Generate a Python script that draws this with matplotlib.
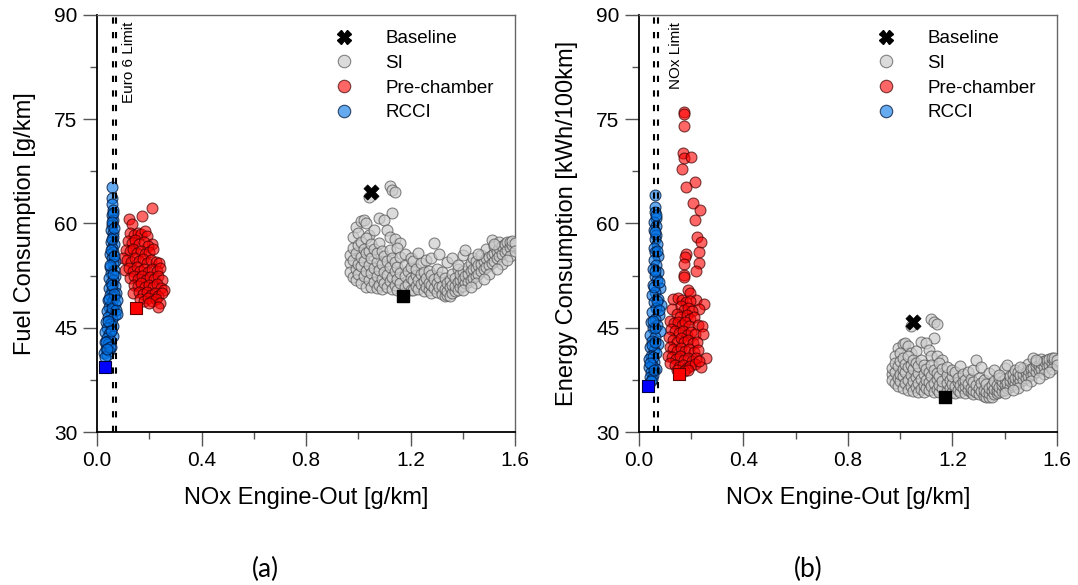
import matplotlib
matplotlib.use("Agg")
import matplotlib.pyplot as plt
from matplotlib.lines import Line2D
from matplotlib.ticker import MultipleLocator, FormatStrFormatter

plt.rcParams['font.family'] = ['Liberation Sans', 'DejaVu Sans']

# ---------------- data ----------------
si_nox = [1.04, 1.12, 1.13, 1.14, 1.13, 0.99, 1.01, 1.02, 1.03, 1.08, 1.10, 1.11, 0.98, 1.00, 1.04, 1.06, 1.12, 1.14, 1.16,
          0.97, 0.97, 0.97, 0.98, 0.98, 0.98, 0.99, 0.99, 0.99, 1.00, 1.00, 1.00, 1.01, 1.01, 1.01, 1.01,
          1.02, 1.02, 1.02, 1.03, 1.03, 1.03, 1.03, 1.04, 1.04, 1.04, 1.05, 1.05, 1.05, 1.05,
          1.06, 1.06, 1.06, 1.07, 1.07, 1.07, 1.07, 1.08, 1.08, 1.08, 1.09, 1.09, 1.09, 1.09,
          1.10, 1.10, 1.10, 1.11, 1.11, 1.11, 1.12, 1.12, 1.12, 1.13, 1.13, 1.13, 1.14, 1.14, 1.14,
          1.15, 1.15, 1.15, 1.15, 1.16, 1.16, 1.16, 1.18, 1.18, 1.18, 1.18, 1.19, 1.19,
          1.20, 1.20, 1.20, 1.20, 1.21, 1.21, 1.21, 1.22, 1.22, 1.22, 1.23, 1.23, 1.23,
          1.24, 1.24, 1.24, 1.25, 1.25, 1.25, 1.26, 1.26, 1.26, 1.27, 1.27, 1.27,
          1.28, 1.28, 1.28, 1.28, 1.29, 1.29, 1.29, 1.30, 1.30, 1.30, 1.31, 1.31, 1.31, 1.32, 1.32, 1.32,
          1.33, 1.33, 1.33, 1.34, 1.34, 1.34, 1.34, 1.35, 1.35, 1.35, 1.36, 1.36, 1.36, 1.36,
          1.37, 1.37, 1.37, 1.38, 1.38, 1.38, 1.39, 1.39, 1.39, 1.40, 1.40, 1.40, 1.40,
          1.41, 1.41, 1.41, 1.42, 1.42, 1.42, 1.43, 1.43, 1.43, 1.44, 1.44, 1.44, 1.45, 1.45, 1.45,
          1.46, 1.46, 1.47, 1.47, 1.47, 1.48, 1.48, 1.49, 1.49, 1.49, 1.50, 1.50,
          1.51, 1.51, 1.51, 1.52, 1.52, 1.52, 1.53, 1.53, 1.54, 1.54, 1.54, 1.55, 1.55,
          1.56, 1.56, 1.57, 1.57, 1.58, 1.58, 1.59, 1.59, 1.60,
          1.40, 1.45, 1.50, 1.55, 1.58, 1.43, 1.48, 1.53, 1.57, 1.60, 1.38, 1.46, 1.52]
si_fuel = [63.8, 65.4, 64.8, 64.5, 61.5, 59.5, 60.3, 60.5, 60.0, 60.8, 60.5, 59.1, 58.0, 58.6, 58.4, 59.0, 58.0, 57.8, 57.2,
           54.3, 53.0, 55.5, 52.3, 54.8, 56.5, 53.5, 55.8, 51.8, 52.8, 54.2, 56.9, 51.5, 53.9, 55.2, 57.4,
           52.5, 54.6, 56.3, 50.9, 53.1, 55.7, 57.9, 51.8, 54.0, 56.0, 50.8, 52.9, 55.1, 57.0,
           51.6, 53.6, 56.4, 50.7, 52.4, 54.5, 55.8, 51.2, 53.3, 57.2, 50.6, 52.0, 54.2, 56.1,
           51.4, 53.0, 55.3, 50.9, 52.6, 54.6, 51.7, 53.8, 56.2, 50.6, 52.3, 55.0, 51.2, 53.2, 54.4,
           50.5, 52.0, 53.7, 56.5, 51.5, 52.9, 55.2, 50.8, 52.4, 54.0, 55.6, 51.3, 53.1,
           50.5, 52.2, 53.7, 55.0, 50.4, 51.8, 54.6, 51.0, 52.6, 53.4, 50.6, 51.9, 55.8,
           51.3, 52.8, 54.3, 50.3, 51.7, 53.0, 50.9, 52.2, 54.8, 50.5, 51.5, 53.2,
           50.0, 51.1, 52.6, 55.0, 50.7, 57.2, 52.0, 50.2, 51.4, 53.5, 50.8, 52.3, 55.6, 49.8, 51.0, 53.0,
           49.5, 50.6, 52.2, 49.7, 50.3, 51.4, 54.4, 49.6, 50.8, 51.9, 50.0, 51.2, 52.8, 55.0,
           50.3, 51.0, 52.1, 50.5, 51.6, 53.4, 50.8, 51.9, 52.7, 51.0, 52.0, 53.2, 55.4,
           51.4, 52.5, 56.2, 51.6, 52.8, 53.8, 51.9, 53.1, 54.3, 52.2, 53.4, 55.0, 52.5, 53.6, 54.6,
           52.8, 54.0, 53.1, 54.2, 55.4, 53.4, 54.6, 53.7, 55.0, 56.3, 54.0, 55.2,
           54.3, 55.5, 57.6, 54.6, 55.8, 56.7, 55.0, 56.1, 55.3, 56.5, 57.3, 55.6, 56.8,
           55.9, 57.0, 56.2, 57.3, 56.6, 57.4, 56.9, 57.5, 57.2,
           50.4, 51.5, 52.8, 54.2, 55.3, 50.9, 52.0, 53.4, 54.8, 56.0, 54.0, 55.6, 57.0]
si_energy = [45.2, 46.3, 45.8, 45.6, 43.5, 42.1, 42.6, 42.8, 42.4, 43.0, 42.8, 41.8, 41.0, 41.4, 41.3, 41.7, 41.0, 40.9, 40.4,
             38.4, 37.5, 39.2, 37.0, 38.7, 39.9, 37.8, 39.5, 36.6, 37.3, 38.3, 40.2, 36.4, 38.1, 39.0, 40.6,
             37.1, 38.6, 39.8, 36.0, 37.5, 39.4, 40.9, 36.6, 38.2, 39.6, 35.9, 37.4, 39.0, 40.3,
             36.5, 37.9, 39.9, 35.8, 37.0, 38.5, 39.5, 36.2, 37.7, 40.4, 35.8, 36.8, 38.3, 39.7,
             36.3, 37.5, 39.1, 36.0, 37.2, 38.6, 36.6, 38.0, 39.7, 35.8, 37.0, 38.9, 36.2, 37.6, 38.5,
             35.7, 36.8, 38.0, 39.9, 36.4, 37.4, 39.0, 35.9, 37.0, 38.2, 39.3, 36.3, 37.5,
             35.7, 36.9, 38.0, 38.9, 35.6, 36.6, 38.6, 36.1, 37.2, 37.8, 35.8, 36.7, 39.5,
             36.3, 37.3, 38.4, 35.6, 36.6, 37.5, 36.0, 36.9, 38.7, 35.7, 36.4, 37.6,
             35.4, 36.1, 37.2, 38.9, 35.8, 40.4, 36.8, 35.5, 36.3, 37.8, 35.9, 37.0, 39.3, 35.2, 36.1, 37.5,
             35.0, 35.8, 36.9, 35.1, 35.6, 36.3, 38.5, 35.1, 35.9, 36.7, 35.4, 36.2, 37.3, 38.9,
             35.6, 36.1, 36.8, 35.7, 36.5, 37.8, 35.9, 36.7, 37.3, 36.1, 36.8, 37.6, 39.2,
             36.3, 37.1, 39.7, 36.5, 37.3, 38.0, 36.7, 37.5, 38.4, 36.9, 37.8, 38.9, 37.1, 37.9, 38.6,
             37.3, 38.2, 37.5, 38.3, 39.2, 37.8, 38.6, 38.0, 38.9, 39.8, 38.2, 39.0,
             38.4, 39.2, 40.7, 38.6, 39.5, 40.1, 38.9, 39.7, 39.1, 39.9, 40.5, 39.3, 40.2,
             39.5, 40.3, 39.7, 40.5, 40.0, 40.6, 40.2, 40.7, 40.4,
             35.6, 36.4, 37.3, 38.3, 39.1, 36.0, 36.8, 37.8, 38.7, 39.6, 38.2, 39.3, 40.3]

pc_nox_a = [0.212, 0.171, 0.124, 0.133,
            0.126, 0.140, 0.155, 0.170, 0.185, 0.190, 0.210, 0.118, 0.132, 0.147, 0.162, 0.178, 0.195,
            0.112, 0.125, 0.138, 0.152, 0.168, 0.183, 0.200, 0.215,
            0.101, 0.115, 0.130, 0.145, 0.160, 0.175, 0.190, 0.205, 0.225, 0.239,
            0.107, 0.122, 0.137, 0.152, 0.166, 0.181, 0.196, 0.212, 0.228, 0.240,
            0.128, 0.142, 0.157, 0.172, 0.187, 0.202, 0.218, 0.233, 0.248,
            0.140, 0.155, 0.170, 0.185, 0.200, 0.215, 0.230, 0.245, 0.255,
            0.139, 0.160, 0.175, 0.190, 0.205, 0.220, 0.235, 0.250,
            0.165, 0.180, 0.195, 0.210, 0.225, 0.240, 0.235, 0.200]
pc_fuel = [62.3, 61.1, 60.6, 59.9,
           58.6, 58.3, 58.7, 58.5, 58.9, 58.2, 57.1, 57.5, 57.2, 57.6, 57.0, 57.3, 56.8,
           56.2, 56.0, 56.4, 55.8, 56.1, 55.6, 55.9, 56.3,
           55.0, 54.8, 54.5, 55.0, 54.6, 54.9, 54.3, 54.7, 54.4, 54.3,
           53.3, 53.6, 53.2, 53.7, 53.1, 53.5, 53.0, 53.4, 53.2, 53.6,
           52.2, 52.5, 52.0, 52.4, 51.9, 52.3, 52.0, 52.4, 51.8,
           51.2, 51.0, 51.4, 50.8, 51.1, 50.9, 51.3, 50.7, 50.4,
           50.0, 50.2, 49.8, 50.1, 49.7, 50.0, 49.6, 50.0,
           49.2, 48.9, 49.3, 48.8, 49.1, 48.6, 48.0, 48.5]

pc_nox_b = [0.175, 0.174, 0.175, 0.169, 0.174, 0.199, 0.167, 0.216, 0.181, 0.207, 0.235, 0.216, 0.223, 0.239,
            0.230, 0.179, 0.178, 0.230, 0.175, 0.218, 0.174, 0.173, 0.188, 0.197, 0.220, 0.251, 0.231, 0.131, 0.129,
            0.150, 0.165, 0.180, 0.195, 0.160, 0.172, 0.188, 0.205, 0.145, 0.158, 0.185, 0.198, 0.212,
            0.120, 0.135, 0.150, 0.165, 0.178, 0.192, 0.225, 0.241,
            0.125, 0.140, 0.155, 0.170, 0.184, 0.200, 0.215, 0.245,
            0.115, 0.130, 0.145, 0.160, 0.175, 0.190, 0.206, 0.222,
            0.118, 0.133, 0.148, 0.163, 0.178, 0.193, 0.210, 0.228,
            0.112, 0.127, 0.142, 0.157, 0.172, 0.187, 0.202, 0.218, 0.258,
            0.120, 0.138, 0.153, 0.168, 0.183, 0.198, 0.215, 0.239, 0.232, 0.145, 0.175, 0.190]
pc_energy = [76.1, 75.8, 74.0, 70.1, 69.4, 69.6, 67.9, 66.0, 65.2, 63.0, 61.9, 60.5, 58.1, 57.4,
             55.9, 55.6, 55.2, 54.3, 54.2, 53.1, 52.6, 52.3, 50.4, 50.0, 49.0, 48.4, 47.7, 49.1, 47.7,
             49.3, 49.0, 48.7, 48.9, 48.2, 47.6, 47.9, 47.4, 47.0, 46.6, 46.8, 46.2, 46.5,
             46.0, 45.7, 45.9, 45.4, 45.8, 45.2, 45.4, 45.2,
             44.8, 44.5, 44.2, 44.6, 44.0, 44.4, 44.1, 44.1,
             43.6, 43.3, 43.0, 43.5, 42.9, 43.2, 42.8, 43.0,
             42.3, 42.0, 41.7, 42.1, 41.6, 41.9, 41.5, 41.8,
             41.0, 40.8, 40.5, 40.9, 40.3, 40.6, 40.2, 40.7, 40.6,
             39.9, 39.6, 39.3, 39.7, 39.2, 39.5, 39.8, 39.4, 40.2, 38.9, 38.8, 38.9]

rc_nox_a = [0.059, 0.059, 0.058, 0.060, 0.056, 0.062, 0.058, 0.055, 0.063, 0.060, 0.053, 0.066, 0.058, 0.062,
            0.050, 0.056, 0.067, 0.060, 0.048, 0.064, 0.055, 0.070, 0.046, 0.060, 0.052, 0.068, 0.044, 0.058,
            0.073, 0.050, 0.064, 0.042, 0.056, 0.070, 0.047, 0.061, 0.038, 0.053, 0.067, 0.043, 0.058, 0.035,
            0.049, 0.063, 0.040, 0.054, 0.032, 0.046, 0.060, 0.037, 0.050, 0.030, 0.043, 0.055, 0.034, 0.046,
            0.028, 0.039, 0.032,
            0.061, 0.057, 0.064, 0.059, 0.054, 0.065, 0.051, 0.062, 0.057, 0.066, 0.045, 0.059, 0.072,
            0.078, 0.076, 0.041, 0.052, 0.036, 0.048, 0.040]
rc_fuel = [65.3, 63.6, 62.8, 62.0, 61.2, 60.5, 59.8, 59.0, 58.6, 58.0, 57.4, 57.0, 56.5, 55.9,
           55.6, 55.0, 54.6, 54.2, 53.8, 53.3, 52.9, 52.5, 52.2, 51.8, 51.4, 51.0, 50.7, 50.4,
           50.0, 49.7, 49.4, 49.0, 48.7, 48.4, 48.0, 47.7, 47.4, 47.1, 46.8, 46.5, 46.2, 45.9,
           45.6, 45.3, 45.0, 44.7, 44.4, 44.1, 43.8, 43.5, 43.2, 42.9, 42.6, 42.3, 42.0, 41.7,
           41.4, 41.1, 40.8,
           61.5, 60.2, 59.3, 57.8, 56.2, 55.3, 54.0, 52.7, 51.1, 49.9, 49.2, 47.9, 47.5,
           49.0, 47.0, 46.0, 44.6, 43.0, 42.2, 41.9]

rc_nox_b = [0.064, 0.063, 0.062, 0.065, 0.060, 0.068, 0.058, 0.066, 0.061, 0.070, 0.057, 0.064, 0.072, 0.059,
            0.067, 0.054, 0.075, 0.062, 0.070, 0.056, 0.080, 0.064, 0.050, 0.073, 0.059, 0.085, 0.067, 0.052,
            0.076, 0.061, 0.047, 0.070, 0.056, 0.080, 0.044, 0.064, 0.051, 0.073, 0.042, 0.058, 0.068, 0.047,
            0.039, 0.060, 0.052, 0.041, 0.065, 0.046, 0.055, 0.043, 0.050, 0.048,
            0.066, 0.062, 0.069, 0.063, 0.058, 0.077, 0.069, 0.063, 0.078, 0.055, 0.049, 0.061, 0.054, 0.044, 0.058]
rc_energy = [64.1, 62.4, 61.6, 60.8, 60.2, 59.6, 59.0, 58.4, 57.7, 57.1, 56.5, 55.9, 55.3, 54.7,
             54.1, 53.5, 53.0, 52.4, 51.8, 51.2, 50.7, 50.2, 49.7, 49.2, 48.7, 48.3, 47.8, 47.3,
             46.8, 46.3, 45.8, 45.4, 44.9, 44.5, 44.0, 43.6, 43.1, 42.7, 42.2, 41.8, 41.4, 40.9,
             40.5, 40.1, 39.7, 39.3, 39.0, 38.6, 38.2, 37.9, 37.6, 37.3,
             61.2, 58.8, 56.0, 53.2, 50.9, 51.6, 48.9, 45.0, 47.5, 46.0, 42.5, 42.9, 40.8, 39.9, 38.9]

baseline_nox = [1.05, 1.05]
baseline_y = [64.5, 45.8]
opt_si_nox = [1.17, 1.17]
opt_si_y = [49.5, 35.0]
opt_pc_nox = [0.149, 0.156]
opt_pc_y = [47.9, 38.4]
opt_rc_nox = [0.031, 0.037]
opt_rc_y = [39.4, 36.6]

limit_lines = [0.06, 0.074]
limit_labels = ["Euro 6 Limit", "NOx Limit"]
ylabels = ["Fuel Consumption [g/km]", "Energy Consumption [kWh/100km]"]
xlabel = "NOx Engine-Out [g/km]"
panel_labels = ["(a)", "(b)"]
legend_labels = ["Baseline", "SI", "Pre-chamber", "RCCI"]

# ---------------- styles ----------------
SI_FACE = (0.80, 0.80, 0.80, 0.7)
SI_EDGE = (0.33, 0.33, 0.33, 0.7)
PC_FACE = (1.0, 0.0, 0.0, 0.6)
PC_EDGE = (0.25, 0.0, 0.0, 0.7)
RC_FACE = (0.0, 0.45, 0.9, 0.6)
RC_EDGE = (0.0, 0.08, 0.22, 0.75)
MS = 62
FS_TICK = 15
FS_LAB = 17
FS_LEG = 13.5
TEXT_OFFSETS = [4, 8]

fig = plt.figure(figsize=(10.78, 5.85), dpi=100)
axes = [fig.add_axes([0.090, 0.2615, 0.3878, 0.7129]),
        fig.add_axes([0.5925, 0.2615, 0.3880, 0.7129])]

series_y = [(si_fuel, pc_nox_a, pc_fuel, rc_nox_a, rc_fuel),
            (si_energy, pc_nox_b, pc_energy, rc_nox_b, rc_energy)]

for i, ax in enumerate(axes):
    si_y, pcx, pcy, rcx, rcy = series_y[i]
    ax.scatter(si_nox, si_y, s=MS, facecolor=SI_FACE, edgecolor=SI_EDGE, linewidth=0.8, zorder=3)
    ax.scatter(pcx, pcy, s=MS, facecolor=PC_FACE, edgecolor=PC_EDGE, linewidth=0.8, zorder=3)
    ax.scatter(rcx, rcy, s=MS, facecolor=RC_FACE, edgecolor=RC_EDGE, linewidth=0.8, zorder=3)
    ax.scatter([opt_si_nox[i]], [opt_si_y[i]], s=70, marker='s', facecolor='black', edgecolor='black', zorder=5)
    ax.scatter([opt_pc_nox[i]], [opt_pc_y[i]], s=70, marker='s', facecolor='#ff0000', edgecolor='#600000', linewidth=0.8, zorder=5)
    ax.scatter([opt_rc_nox[i]], [opt_rc_y[i]], s=70, marker='s', facecolor='#0000ff', edgecolor='#000040', linewidth=0.8, zorder=5)
    ax.scatter([baseline_nox[i]], [baseline_y[i]], s=120, marker='X', facecolor='black', edgecolor='black', linewidth=0.5, zorder=6)

    for xl in limit_lines:
        ax.axvline(xl, color='black', lw=1.5, ls=(0, (3, 4)), zorder=4)
    ax.annotate(limit_labels[i], xy=(limit_lines[1], 89.0), xytext=(TEXT_OFFSETS[i], 0), textcoords='offset points',
                rotation=90, ha='left', va='top', fontsize=11)

    ax.set_xlim(0, 1.6)
    ax.set_ylim(30, 90)
    ax.xaxis.set_major_locator(MultipleLocator(0.4))
    ax.xaxis.set_minor_locator(MultipleLocator(0.2))
    ax.yaxis.set_major_locator(MultipleLocator(15))
    ax.yaxis.set_minor_locator(MultipleLocator(7.5))
    ax.xaxis.set_major_formatter(FormatStrFormatter('%.1f'))
    ax.tick_params(which='major', direction='out', length=10, width=1.0, color='#555555', labelsize=FS_TICK, pad=4)
    ax.tick_params(which='minor', direction='out', length=5, width=1.0, color='#555555')
    ax.spines['left'].set_color('black')
    ax.spines['bottom'].set_color('black')
    ax.spines['left'].set_linewidth(1.3)
    ax.spines['bottom'].set_linewidth(1.3)
    for s in ['top', 'right']:
        ax.spines[s].set_color('#666666')
        ax.spines[s].set_linewidth(1.0)
    ax.set_xlabel(xlabel, fontsize=FS_LAB, labelpad=12)
    ax.set_ylabel(ylabels[i], fontsize=FS_LAB, labelpad=13)

    handles = [Line2D([], [], ls='none', marker='X', ms=10, mfc='black', mec='black'),
               Line2D([], [], ls='none', marker='o', ms=9, mfc=SI_FACE, mec=SI_EDGE, mew=0.8),
               Line2D([], [], ls='none', marker='o', ms=9, mfc=PC_FACE, mec=PC_EDGE, mew=0.8),
               Line2D([], [], ls='none', marker='o', ms=9, mfc=RC_FACE, mec=RC_EDGE, mew=0.8)]
    ax.legend(handles, legend_labels, loc='upper left', bbox_to_anchor=(0.515, 0.995), frameon=False,
              fontsize=FS_LEG, handletextpad=1.2, labelspacing=0.4, borderaxespad=0.3)

    fig.text(0.246 + i * 0.504, 0.005, panel_labels[i], fontsize=19, family=['Lato', 'DejaVu Sans'],
             ha='center', va='bottom')

fig.savefig('out.png', dpi=100)
